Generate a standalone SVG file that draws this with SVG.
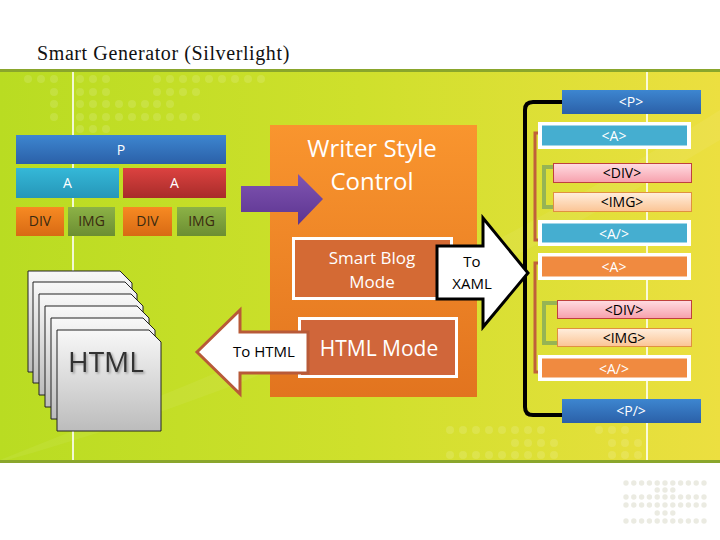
<svg xmlns="http://www.w3.org/2000/svg" width="720" height="540" viewBox="0 0 720 540">
<defs>
<linearGradient id="band" x1="0" y1="0" x2="1" y2="0">
<stop offset="0" stop-color="#b9dc22"/>
<stop offset="0.5" stop-color="#cfe02c"/>
<stop offset="1" stop-color="#ecdf40"/>
</linearGradient>
<linearGradient id="gBlue" x1="0" y1="0" x2="0" y2="1"><stop offset="0" stop-color="#3d86d0"/><stop offset="1" stop-color="#2b60a8"/></linearGradient>
<linearGradient id="gCyan" x1="0" y1="0" x2="0" y2="1"><stop offset="0" stop-color="#35b8d8"/><stop offset="1" stop-color="#2696b8"/></linearGradient>
<linearGradient id="gRed" x1="0" y1="0" x2="0" y2="1"><stop offset="0" stop-color="#dc4240"/><stop offset="1" stop-color="#a82c2a"/></linearGradient>
<linearGradient id="gOr" x1="0" y1="0" x2="0" y2="1"><stop offset="0" stop-color="#f78a22"/><stop offset="1" stop-color="#d86a14"/></linearGradient>
<linearGradient id="gGr" x1="0" y1="0" x2="0" y2="1"><stop offset="0" stop-color="#8cb246"/><stop offset="1" stop-color="#6c8e32"/></linearGradient>
<linearGradient id="gBig" x1="0" y1="0" x2="0" y2="1"><stop offset="0" stop-color="#f9952e"/><stop offset="1" stop-color="#e2741f"/></linearGradient>
<linearGradient id="gPur" x1="0" y1="0" x2="0" y2="1"><stop offset="0" stop-color="#8055b2"/><stop offset="1" stop-color="#5c3490"/></linearGradient>
<linearGradient id="gPage" x1="0" y1="0" x2="0" y2="1"><stop offset="0" stop-color="#f8f8f8"/><stop offset="1" stop-color="#bcbcbc"/></linearGradient>
<linearGradient id="gPink" x1="0" y1="0" x2="0" y2="1"><stop offset="0" stop-color="#ffdce2"/><stop offset="1" stop-color="#f7a0ac"/></linearGradient>
<linearGradient id="gPeach" x1="0" y1="0" x2="0" y2="1"><stop offset="0" stop-color="#ffeedd"/><stop offset="1" stop-color="#fbc494"/></linearGradient>
<filter id="sh" x="-10%" y="-10%" width="130%" height="140%"><feDropShadow dx="1.5" dy="1.5" stdDeviation="0.8" flood-color="#000" flood-opacity="0.35"/></filter>
<path id="page" d="M0,0 H92 L104,12 V101 H0 Z"/>
</defs>
<style>
.lbl{font-family:"Open Sans","Liberation Sans",sans-serif;text-anchor:middle}
.w{fill:#ffffff}
.k{fill:#000000}
.dk{fill:#3a2a10}
.pg{fill:url(#gPage);stroke:#222;stroke-width:1}
.wb{fill:#ffffff}
.deco{fill:#ffffff;fill-opacity:0.13}
.dot{fill:#ebebe2}
</style>

<!-- background -->
<rect x="0" y="0" width="720" height="540" fill="#ffffff"/>
<rect x="0" y="70" width="720" height="392" fill="url(#band)"/>
<path d="M0,460 C200,380 420,300 720,110 L720,140 C420,320 220,400 0,462 Z" fill="#ffffff" fill-opacity="0.06"/>
<rect x="0" y="69" width="720" height="3" fill="#8aa62c"/>
<rect x="0" y="460" width="720" height="3" fill="#8aa62c"/>
<rect x="72" y="72" width="2" height="388" fill="#ffffff" fill-opacity="0.8"/>
<rect x="646" y="72" width="2" height="388" fill="#ffffff" fill-opacity="0.8"/>
<g class="deco">
<circle cx="28" cy="79" r="4"/><circle cx="41" cy="79" r="4"/><circle cx="54" cy="79" r="4"/>
<circle cx="80" cy="79" r="4"/><circle cx="93" cy="79" r="4"/><circle cx="106" cy="79" r="4"/>
<circle cx="157" cy="79" r="4"/><circle cx="170" cy="79" r="4"/><circle cx="183" cy="79" r="4"/><circle cx="196" cy="79" r="4"/><circle cx="209" cy="79" r="4"/><circle cx="222" cy="79" r="4"/><circle cx="235" cy="79" r="4"/><circle cx="248" cy="79" r="4"/><circle cx="261" cy="79" r="4"/>
<circle cx="54" cy="92" r="4"/><circle cx="80" cy="92" r="4"/><circle cx="93" cy="92" r="4"/><circle cx="106" cy="92" r="4"/><circle cx="157" cy="92" r="4"/><circle cx="170" cy="92" r="4"/><circle cx="183" cy="92" r="4"/><circle cx="196" cy="92" r="4"/>
<circle cx="54" cy="104" r="4"/><circle cx="80" cy="104" r="4"/><circle cx="93" cy="104" r="4"/><circle cx="106" cy="104" r="4"/><circle cx="119" cy="104" r="4"/><circle cx="132" cy="104" r="4"/><circle cx="145" cy="104" r="4"/><circle cx="157" cy="104" r="4"/><circle cx="170" cy="104" r="4"/>
<circle cx="54" cy="117" r="4"/><circle cx="80" cy="117" r="4"/><circle cx="93" cy="117" r="4"/><circle cx="106" cy="117" r="4"/><circle cx="119" cy="117" r="4"/><circle cx="132" cy="117" r="4"/><circle cx="145" cy="117" r="4"/><circle cx="157" cy="117" r="4"/><circle cx="170" cy="117" r="4"/><circle cx="183" cy="117" r="4"/><circle cx="196" cy="117" r="4"/>
<circle cx="80" cy="129" r="4"/><circle cx="93" cy="129" r="4"/><circle cx="106" cy="129" r="4"/>
<circle cx="450" cy="430" r="4"/><circle cx="463" cy="430" r="4"/><circle cx="476" cy="430" r="4"/><circle cx="489" cy="430" r="4"/><circle cx="502" cy="430" r="4"/><circle cx="515" cy="430" r="4"/><circle cx="528" cy="430" r="4"/><circle cx="541" cy="430" r="4"/><circle cx="599" cy="430" r="4"/><circle cx="612" cy="430" r="4"/><circle cx="625" cy="430" r="4"/>
<circle cx="515" cy="443" r="4"/><circle cx="528" cy="443" r="4"/><circle cx="541" cy="443" r="4"/><circle cx="554" cy="443" r="4"/><circle cx="612" cy="443" r="4"/><circle cx="625" cy="443" r="4"/><circle cx="638" cy="443" r="4"/>
<circle cx="450" cy="455" r="4"/><circle cx="463" cy="455" r="4"/><circle cx="476" cy="455" r="4"/><circle cx="489" cy="455" r="4"/><circle cx="502" cy="455" r="4"/><circle cx="515" cy="455" r="4"/><circle cx="528" cy="455" r="4"/><circle cx="541" cy="455" r="4"/><circle cx="554" cy="455" r="4"/><circle cx="612" cy="455" r="4"/><circle cx="625" cy="455" r="4"/><circle cx="638" cy="455" r="4"/>
</g>
<g class="dot">
<circle cx="626" cy="483" r="2.7"/><circle cx="633.8" cy="483" r="2.7"/><circle cx="641.6" cy="483" r="2.7"/><circle cx="649.4" cy="483" r="2.7"/><circle cx="657.2" cy="483" r="2.7"/><circle cx="665" cy="483" r="2.7"/><circle cx="672.8" cy="483" r="2.7"/><circle cx="680.6" cy="483" r="2.7"/><circle cx="688.4" cy="483" r="2.7"/><circle cx="696.2" cy="483" r="2.7"/><circle cx="704" cy="483" r="2.7"/>
<circle cx="657.2" cy="490" r="2.7"/><circle cx="665" cy="490" r="2.7"/><circle cx="672.8" cy="490" r="2.7"/>
<circle cx="626" cy="497" r="2.7"/><circle cx="633.8" cy="497" r="2.7"/><circle cx="641.6" cy="497" r="2.7"/><circle cx="649.4" cy="497" r="2.7"/><circle cx="657.2" cy="497" r="2.7"/><circle cx="665" cy="497" r="2.7"/><circle cx="672.8" cy="497" r="2.7"/><circle cx="680.6" cy="497" r="2.7"/><circle cx="688.4" cy="497" r="2.7"/><circle cx="696.2" cy="497" r="2.7"/><circle cx="704" cy="497" r="2.7"/>
<circle cx="626" cy="505" r="2.7"/><circle cx="633.8" cy="505" r="2.7"/><circle cx="641.6" cy="505" r="2.7"/><circle cx="649.4" cy="505" r="2.7"/><circle cx="657.2" cy="505" r="2.7"/><circle cx="665" cy="505" r="2.7"/><circle cx="672.8" cy="505" r="2.7"/><circle cx="680.6" cy="505" r="2.7"/><circle cx="688.4" cy="505" r="2.7"/><circle cx="696.2" cy="505" r="2.7"/><circle cx="704" cy="505" r="2.7"/>
<circle cx="657.2" cy="513" r="2.7"/><circle cx="665" cy="513" r="2.7"/><circle cx="672.8" cy="513" r="2.7"/>
<circle cx="626" cy="521" r="2.7"/><circle cx="633.8" cy="521" r="2.7"/><circle cx="641.6" cy="521" r="2.7"/><circle cx="649.4" cy="521" r="2.7"/><circle cx="657.2" cy="521" r="2.7"/><circle cx="665" cy="521" r="2.7"/><circle cx="672.8" cy="521" r="2.7"/><circle cx="680.6" cy="521" r="2.7"/><circle cx="688.4" cy="521" r="2.7"/><circle cx="696.2" cy="521" r="2.7"/><circle cx="704" cy="521" r="2.7"/>
</g>

<text x="37" y="60" font-family="'Liberation Serif','DejaVu Serif',serif" font-size="20" letter-spacing="0.6" fill="#111">Smart Generator (Silverlight)</text>

<!-- left structure blocks -->
<g id="blk-p"><rect x="16" y="135" width="210" height="29" fill="url(#gBlue)"/><text class="lbl w" x="121" y="155" font-size="14">P</text></g>
<g id="blk-a1"><rect x="16" y="168" width="103" height="30" fill="url(#gCyan)"/><text class="lbl w" x="67.5" y="188" font-size="14">A</text></g>
<g id="blk-a2"><rect x="123" y="168" width="103" height="30" fill="url(#gRed)"/><text class="lbl w" x="174.5" y="188" font-size="14">A</text></g>
<g id="blk-div1"><rect x="16" y="207" width="48" height="29" fill="url(#gOr)"/><text class="lbl dk" x="40" y="226" font-size="14">DIV</text></g>
<g id="blk-img1"><rect x="68" y="207" width="47" height="29" fill="url(#gGr)"/><text class="lbl dk" x="91.5" y="226" font-size="14">IMG</text></g>
<g id="blk-div2"><rect x="123" y="207" width="49" height="29" fill="url(#gOr)"/><text class="lbl dk" x="147.5" y="226" font-size="14">DIV</text></g>
<g id="blk-img2"><rect x="177" y="207" width="49" height="29" fill="url(#gGr)"/><text class="lbl dk" x="201.5" y="226" font-size="14">IMG</text></g>

<!-- HTML page stack -->
<g id="html-pages">
<use href="#page" class="pg" x="28" y="271"/>
<use href="#page" class="pg" x="33" y="282"/>
<use href="#page" class="pg" x="39" y="294"/>
<use href="#page" class="pg" x="45" y="306"/>
<use href="#page" class="pg" x="51" y="318"/>
<use href="#page" class="pg" x="57" y="330"/>
<text x="68" y="372" font-family="'Open Sans','Liberation Sans',sans-serif" font-size="28" fill="#333" filter="url(#sh)">HTML</text>
</g>

<!-- Writer Style Control -->
<g id="writer">
<rect x="270" y="125" width="207" height="272" fill="url(#gBig)"/>
<text class="lbl w" x="372" y="157" font-size="24">Writer Style</text>
<text class="lbl w" x="372" y="190" font-size="24">Control</text>
</g>

<g id="smartblog">
<rect x="293.5" y="238.5" width="158" height="60" fill="#d46a34" stroke="#ffffff" stroke-width="3"/>
<text class="lbl w" x="372" y="264" font-size="17">Smart Blog</text>
<text class="lbl w" x="372" y="288" font-size="17">Mode</text>
</g>

<g id="htmlmode">
<rect x="299.5" y="318.5" width="157" height="58" fill="#d0663a" stroke="#ffffff" stroke-width="3"/>
<text class="lbl w" x="379" y="356" font-size="21">HTML Mode</text>
</g>

<!-- connectors / arrows -->
<g id="connectors">
<polygon points="241,186 298,186 298,174 323,199 298,225 298,212 241,212" fill="url(#gPur)"/>
<polygon points="197,352 240,310 240,332 308,332 308,373 240,373 240,394" fill="#ffffff" stroke="#b85a38" stroke-width="3" stroke-linejoin="miter"/>
<path d="M562,102 H533 Q525,102 525,110 V407 Q525,415 533,415 H562" fill="none" stroke="#000" stroke-width="4"/>
<polygon points="437,246 483,246 483,218 528,273 483,327 483,299 437,299" fill="#ffffff" stroke="#000" stroke-width="3" stroke-linejoin="miter"/>
<path d="M541,133 H535 V240 H541" fill="none" stroke="#c0603a" stroke-width="3"/>
<path d="M541,263 H535 V372 H541" fill="none" stroke="#c0603a" stroke-width="3"/>
<path d="M553,167 H544 V207 H553" fill="none" stroke="#96b454" stroke-width="4"/>
<path d="M557,303 H544 V343 H557" fill="none" stroke="#96b454" stroke-width="4"/>
</g>
<text class="lbl k" x="264" y="357" font-size="15">To HTML</text>
<text class="lbl k" x="472" y="267" font-size="15">To</text>
<text class="lbl k" x="472" y="289" font-size="15">XAML</text>

<!-- right XAML column -->
<g id="x-p"><rect x="562" y="90" width="139" height="24" fill="url(#gBlue)"/><text class="lbl w" x="631" y="107" font-size="14">&lt;P&gt;</text></g>
<g id="x-a1"><rect x="538" y="122" width="153" height="27" class="wb"/><rect x="542" y="125.5" width="145" height="20" fill="#45aed0"/><text class="lbl w" x="614" y="141" font-size="14">&lt;A&gt;</text></g>
<g id="x-div1"><rect x="553.5" y="163.5" width="138" height="19" fill="url(#gPink)" stroke="#c0403e" stroke-width="1"/><text class="lbl k" x="622" y="178" font-size="14">&lt;DIV&gt;</text></g>
<g id="x-img1"><rect x="553.5" y="192.5" width="138" height="19" fill="url(#gPeach)" stroke="#e09040" stroke-width="1"/><text class="lbl k" x="622" y="207" font-size="14">&lt;IMG&gt;</text></g>
<g id="x-a1end"><rect x="538" y="220" width="153" height="26" class="wb"/><rect x="542" y="223.5" width="145" height="19" fill="#45aed0"/><text class="lbl w" x="614" y="239" font-size="14">&lt;A/&gt;</text></g>
<g id="x-a2"><rect x="538" y="253" width="153" height="27" class="wb"/><rect x="542" y="256.5" width="145" height="20" fill="#f08a40"/><text class="lbl w" x="614" y="272" font-size="14">&lt;A&gt;</text></g>
<g id="x-div2"><rect x="557.5" y="300.5" width="134" height="18" fill="url(#gPink)" stroke="#c0403e" stroke-width="1"/><text class="lbl k" x="624" y="314.5" font-size="14">&lt;DIV&gt;</text></g>
<g id="x-img2"><rect x="557.5" y="328.5" width="134" height="18" fill="url(#gPeach)" stroke="#e09040" stroke-width="1"/><text class="lbl k" x="624" y="342.5" font-size="14">&lt;IMG&gt;</text></g>
<g id="x-a2end"><rect x="538" y="355" width="153" height="26" class="wb"/><rect x="542" y="358.5" width="145" height="19" fill="#f08a40"/><text class="lbl w" x="614" y="374" font-size="14">&lt;A/&gt;</text></g>
<g id="x-pend"><rect x="562" y="399" width="139" height="24" fill="url(#gBlue)"/><text class="lbl w" x="631" y="416" font-size="14">&lt;P/&gt;</text></g>
</svg>
